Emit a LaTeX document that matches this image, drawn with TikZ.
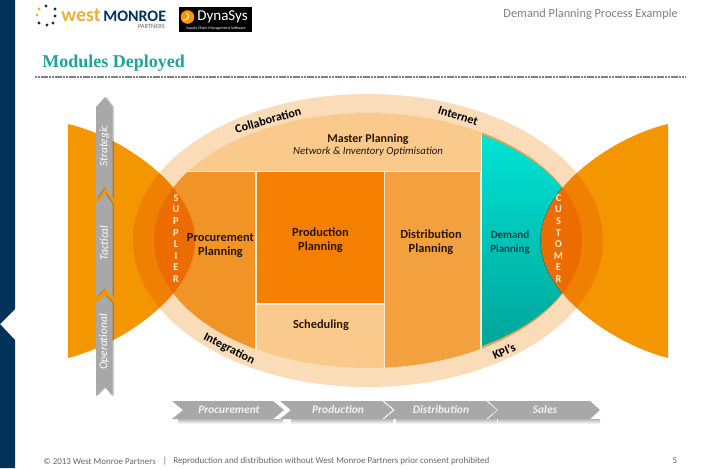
\documentclass[tikz,border=0pt]{standalone}
\usepackage{fontspec}
\setmainfont{Carlito}
\newfontfamily\titlefont{Liberation Serif}
\usetikzlibrary{shapes.geometric}
\definecolor{navy}{HTML}{00325A}
\definecolor{wingc}{HTML}{F49600}
\definecolor{ringc}{HTML}{F08000}
\definecolor{hotc}{HTML}{ED6C00}
\definecolor{bandc}{HTML}{FBDCB8}
\definecolor{gapc}{HTML}{FDEBD6}
\definecolor{lightp}{HTML}{F9CA8C}
\definecolor{procc}{HTML}{F09428}
\definecolor{prodc}{HTML}{F57F00}
\definecolor{distc}{HTML}{F3A03E}
\definecolor{greyc}{HTML}{A8A8A8}
\definecolor{brownc}{HTML}{B9771A}
\definecolor{titlec}{HTML}{1FA39A}
\definecolor{inkc}{HTML}{2A1500}
\definecolor{goldc}{HTML}{E8B33A}
\definecolor{footc}{HTML}{666666}
\definecolor{tealtop}{HTML}{00E8D8}
\definecolor{tealbot}{HTML}{00A095}
\definecolor{tealrim}{HTML}{D9A45A}
\definecolor{tealink}{HTML}{003F48}
\definecolor{tealedge}{HTML}{1F6F68}
\definecolor{creamc}{HTML}{FFEBD0}
\tikzset{
 boxlabel/.style={font=\fontsize{9.3}{10.4}\selectfont\bfseries,text=inkc,align=center,inner sep=0pt},
 arclabel/.style={font=\fontsize{9.1}{10}\selectfont\bfseries,text=black,inner sep=0pt},
 vlabel/.style={font=\fontsize{8.6}{9}\selectfont\itshape,text=white,rotate=90,inner sep=0pt},
 hlabel/.style={font=\fontsize{8.6}{9}\selectfont\bfseries\itshape,text=white!95!black,inner sep=0pt},
 sidelabel/.style={font=\fontsize{7.8}{8.7}\selectfont\bfseries,text=creamc,align=center,inner sep=0pt},
 footlabel/.style={font=\fontsize{6.75}{7}\selectfont,text=footc,inner sep=0pt},
 chev/.style={fill=greyc,draw=none},
 softshadow/.style={top color=black!28,bottom color=white,draw=none},
 logodot/.style={circle,fill=#1,minimum size=2.6pt,inner sep=0pt},
}
\def\leftwing{(68,124) .. controls (120,136) and (195,185) .. (195,240.5) .. controls (195,296) and (120,345) .. (68,358) -- cycle}
\def\rightwing{(668,124) .. controls (616,136) and (541,185) .. (541,240.5) .. controls (541,296) and (616,345) .. (668,358) -- cycle}
\def\outerell{(368,240.5) ellipse [x radius=235,y radius=146.5]}
\def\innerell{(368,240.5) ellipse [x radius=214,y radius=127.5]}
\def\stratpoly{(105,97) -- (112.5,107) -- (112.5,199) -- (105,187) -- (96,199) -- (96,107) -- cycle}
\def\tactpoly{(105,193) -- (112.5,204) -- (112.5,297) -- (105,288) -- (96,297) -- (96,204) -- cycle}
\def\operpoly{(105,295) -- (112.5,303) -- (112.5,396) -- (105,387) -- (96,396) -- (96,303) -- cycle}
\begin{document}
\begin{tikzpicture}[x=0.75pt,y=-0.75pt]
\useasboundingbox (0,0) rectangle (720,468);
\fill[white] (0,0) rectangle (720,468);
% sidebar
\fill[navy] (0,0) -- (15,0) -- (15,309) -- (0,324) -- (15,340) -- (15,468) -- (0,468) -- cycle;
% logos
\node[logodot=navy] (d1) at (46,6) {};
\node[logodot=navy] (d2) at (55,9) {};
\node[logodot=navy] (d3) at (55,16) {};
\node[logodot=navy] (d4) at (53,23) {};
\node[logodot=navy] (d5) at (47,25) {};
\node[logodot=navy] (d6) at (39,23) {};
\node[logodot=goldc] (d7) at (37,15) {};
\node[logodot=goldc] (d8) at (39,9) {};
\node[anchor=west,inner sep=0pt,text=goldc,font=\fontsize{15}{15}\selectfont\bfseries] (west) at (61,15) {west};
\node[anchor=west,inner sep=0pt,text=navy,font=\fontsize{12}{12}\selectfont\bfseries] (monroe) at (103,16) {MONROE};
\node[anchor=east,inner sep=0pt,text=footc,font=\fontsize{4.8}{5}\selectfont] (partners) at (165,26.5) {PARTNERS};
\fill[black] (179,7) rectangle (252,32);
\fill[orange!85!yellow] (187.5,17) circle [radius=6.8];
\draw[white,line width=.7pt] (183,20) .. controls (187,21) and (191,17) .. (187,13);
\node[anchor=west,inner sep=0pt,text=white,font=\fontsize{11.3}{12}\selectfont] (dyna) at (197,17) {DynaSys};
\node[inner sep=0pt,text=white,font=\fontsize{3}{3}\selectfont] (tag) at (216,28) {Supply Chain Management Software};
% header
\node[anchor=east,inner sep=0pt,text=black!50,font=\fontsize{9.25}{10}\selectfont] (head) at (678,14) {Demand Planning Process Example};
\node[anchor=west,inner sep=0pt,text=titlec,font=\titlefont\fontsize{13.5}{14}\selectfont\bfseries] (title) at (42,63) {Modules Deployed};
\coordinate (ruleL) at (35,77);
\coordinate (ruleR) at (685,77);
\draw[black!50,line width=1.7pt,dash pattern=on 1.6pt off .5pt] (ruleL) -- (ruleR);
% lens
\fill[bandc] \outerell;
\fill[gapc] \innerell;
\begin{scope}
 \clip \innerell;
 \fill[lightp] (150,100) rectangle (481,170.5);
 \fill[procc] (150,172) rectangle (255,380);
 \fill[prodc] (257,172) rectangle (383.5,303);
 \fill[lightp] (257,304.5) rectangle (383.5,380);
 \fill[distc] (385,172) rectangle (480,380);
 \fill[tealrim] (482,100) rectangle (600,380);
\end{scope}
% demand segment
\begin{scope}
 \clip (368,240.5) ellipse [x radius=214,y radius=124.5];
 \shade[top color=tealtop,bottom color=tealbot] (482,120) rectangle (600,360);
 \draw[tealedge,line width=1.2pt] \rightwing;
\end{scope}
% wings
\fill[wingc] \leftwing;
\fill[wingc] \rightwing;
\begin{scope}\clip \leftwing; \fill[ringc] \outerell; \fill[hotc] \innerell; \end{scope}
\begin{scope}\clip \rightwing; \fill[ringc] \outerell; \fill[hotc] \innerell; \end{scope}
% vertical arrows
\begin{scope}[xshift=1.2pt]
 \fill[black!20] \stratpoly; \fill[black!20] \tactpoly; \fill[black!20] \operpoly;
\end{scope}
\begin{scope}
 \clip \leftwing;
 \begin{scope}[xshift=1.2pt]
  \fill[brownc] \stratpoly; \fill[brownc] \tactpoly; \fill[brownc] \operpoly;
 \end{scope}
\end{scope}
\fill[chev] \stratpoly; \fill[chev] \tactpoly; \fill[chev] \operpoly;
% horizontal chevrons
\shade[softshadow] (178,419) rectangle (283,424);
\shade[softshadow] (291,419) rectangle (393,424);
\shade[softshadow] (396,419) rectangle (497,424);
\shade[softshadow] (498,419) rectangle (600,424);
\fill[chev] (172,401) -- (273,401) -- (284,410) -- (273,419) -- (172,419) -- (183,410) -- cycle;
\fill[chev] (280,401) -- (382,401) -- (393,410) -- (382,419) -- (280,419) -- (291,410) -- cycle;
\fill[chev] (384,401) -- (486,401) -- (497,410) -- (486,419) -- (384,419) -- (395,410) -- cycle;
\fill[chev] (488,401) -- (590,401) -- (600,410) -- (590,419) -- (488,419) -- (498,410) -- cycle;
% labels
\node[boxlabel,font=\fontsize{9}{10}\selectfont\bfseries] (master) at (368,139.5) {Master Planning};
\node[boxlabel,font=\fontsize{8.1}{9}\selectfont\itshape] (network) at (368,152) {Network \& Inventory Optimisation};
\node[boxlabel] (proc) at (220.5,245.5) {Procurement\\Planning};
\node[boxlabel] (prod) at (320.5,240) {Production\\Planning};
\node[boxlabel] (dist) at (431,242) {Distribution\\Planning};
\node[boxlabel] (sched) at (321,325) {Scheduling};
\node[boxlabel,text=tealink,font=\fontsize{8.2}{10.8}\selectfont\bfseries] (dem) at (510,242.5) {Demand\\Planning};
\node[vlabel] (strat) at (104.5,146) {Strategic};
\node[vlabel] (tact) at (104,243) {Tactical};
\node[vlabel] (oper) at (104,342) {Operational};
\node[hlabel] (hproc) at (229,410) {Procurement};
\node[hlabel] (hprod) at (338,410) {Production};
\node[hlabel] (hdist) at (441,410) {Distribution};
\node[hlabel] (hsale) at (545,410) {Sales};
\node[arclabel,rotate=16] (collab) at (268,120) {Collaboration};
\node[arclabel,rotate=-17.5] (inet) at (458,116) {Internet};
\node[arclabel,rotate=-27] (integ) at (229,349) {Integration};
\node[arclabel,rotate=23] (kpi) at (504,351) {KPI's};
\node[sidelabel] (sup) at (176,238.5) {S\\U\\P\\P\\L\\I\\E\\R};
\node[sidelabel] (cus) at (558.5,238.5) {C\\U\\S\\T\\O\\M\\E\\R};
% footer
\node[footlabel,anchor=west] (foot1) at (43,461) {© 2013 West Monroe Partners};
\node[footlabel] (foot2) at (165,461) {|};
\node[footlabel,anchor=west] (foot3) at (173,461) {Reproduction and distribution without West Monroe Partners prior consent prohibited};
\node[footlabel] (page) at (675,461) {5};
\end{tikzpicture}
\end{document}
